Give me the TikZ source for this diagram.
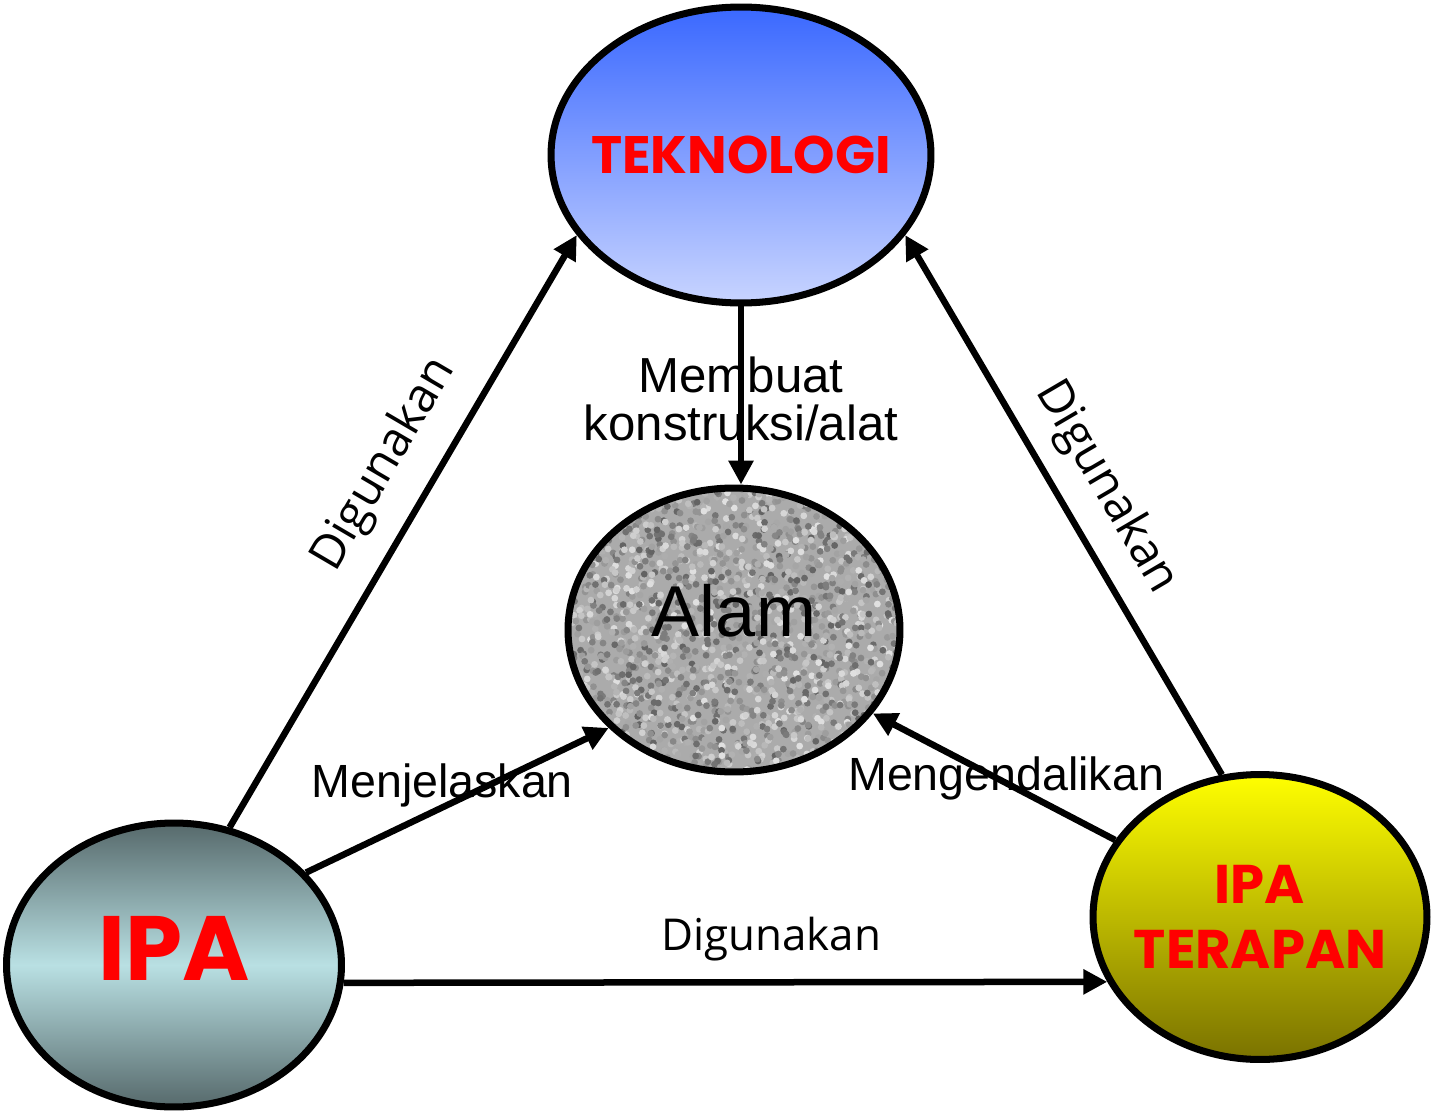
\documentclass[tikz,border=0pt]{standalone}
\usepackage{fontspec}
\setmainfont{Liberation Sans}
\newfontfamily\comicfont{Poppins}
\newfontfamily\softfont{Open Sans}
\usetikzlibrary{arrows.meta,shapes.geometric}

\definecolor{tekTop}{HTML}{3A68FF}
\definecolor{tekBot}{HTML}{C8D4FF}
\definecolor{ipaEdge}{HTML}{56696B}
\definecolor{ipaMid}{HTML}{B9E0E3}
\definecolor{terTop}{HTML}{FFFF00}
\definecolor{terBot}{HTML}{7A7200}
\definecolor{txtRed}{HTML}{FF0000}

\tikzset{
  bubble/.style={ellipse, draw=black, line width=4pt, inner ysep=0pt, inner xsep=-2cm},
  link/.style={line width=3.7pt, -{Triangle[length=0.48cm, width=0.48cm]}},
  lbl/.style={font=\fontsize{26.5}{28}\selectfont, inner sep=2pt},
  slbl/.style={font=\softfont\fontsize{27}{29}\selectfont, inner sep=2pt},
  bigred/.style={text=txtRed}
}

\begin{document}
\begin{tikzpicture}[x=0.02cm, y=-0.02cm]
  \useasboundingbox (0,0) rectangle (1433,1115);

  % grainy fill of Alam
  \begin{scope}
    \clip (734,630) ellipse [x radius=166, y radius=142];
    \fill[black!33] (560,480) rectangle (910,780);
    \foreach \a in {560,567,...,910} {
      \foreach \b in {480,487,...,780} {
        \pgfmathsetmacro\gv{int(12+50*rnd)}
        \fill[black!\gv] (\a+8*rand,\b+8*rand) circle (3.4);
      }
    }
  \end{scope}

  % the four bubbles
  \node[bubble, minimum width=7.6cm, minimum height=5.92cm, top color=tekTop, bottom color=tekBot, bigred,
        font=\comicfont\bfseries\fontsize{30}{32}\selectfont] (tek) at (741,155) {TEKNOLOGI};
  \node[bubble, minimum width=6.64cm, minimum height=5.68cm, text depth=0.8cm,
        font=\fontsize{41}{44}\selectfont] (alam) at (734,630) {Alam};
  \node[bubble, minimum width=6.7cm, minimum height=5.68cm, top color=ipaEdge, bottom color=ipaEdge, middle color=ipaMid,
        bigred, text depth=0.68cm, font=\comicfont\bfseries\fontsize{52}{56}\selectfont] (ipa) at (174,965) {IPA};
  \node[bubble, minimum width=6.68cm, minimum height=5.7cm, top color=terTop, bottom color=terBot, bigred, align=center,
        font=\comicfont\bfseries\fontsize{31}{37}\selectfont] (ter) at (1260,917) {IPA\\TERAPAN};

  % connectors
  \draw[link] (ipa.68) -- node[slbl, pos=0.57, sloped, above=0.38cm] {Digunakan} (tek.206);
  \draw[link] (ter.105) -- node[slbl, pos=0.49, sloped, above=0.3cm] {Digunakan} (tek.334);
  \draw[link] (tek.south) -- node[pos=0.52, align=center, font=\fontsize{28}{27.5}\selectfont] {Membuat\\konstruksi/alat} (tek.south |- alam.north);
  \draw[link] (ipa.35) -- node[lbl, pos=0.45, yshift=0.44cm] {Menjelaskan} (alam.218);
  \draw[link] (ter.152) -- node[lbl, pos=0.45, yshift=0.1cm] {Mengendalikan} (alam.329);
  \draw[link] (ipa.354) -- node[slbl, font=\softfont\fontsize{25}{27}\selectfont, pos=0.56, yshift=0.86cm] {Digunakan} (ter.203.5);
\end{tikzpicture}
\end{document}
